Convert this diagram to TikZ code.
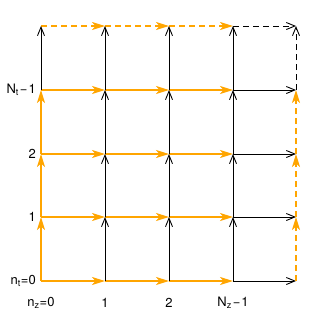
\documentclass[tikz,border=0pt]{standalone}
\usepackage{fontspec}
\setmainfont{TeX Gyre Heros}
\usetikzlibrary{arrows.meta}
\definecolor{orng}{HTML}{FFA500}
\begin{document}
\begin{tikzpicture}[x=1pt,y=-1pt,
  blkedge/.style={draw=black, line width=0.9pt, -{Straight Barb[length=8.5pt,width=7pt]}},
  orgedge/.style={draw=orng, line width=1.9pt, -{Stealth[length=13pt,width=8pt,inset=3.5pt]}},
  dsh/.style={dash pattern=on 6pt off 4pt},
  lbl/.style={font=\fontsize{13}{15}\selectfont, inner sep=0pt}]
\path[use as bounding box] (0,0) rectangle (327,322);
\foreach \i/\x in {0/41,1/105,2/169,3/233,4/296}
  \foreach \j/\y in {0/281,1/217,2/154,3/90,4/26}
    \coordinate (p\i\j) at (\x,\y);
% horizontal edges
\foreach \j in {0,1,2,3}{
  \foreach \i/\k in {0/1,1/2,2/3} \draw[orgedge] (p\i\j) -- (p\k\j);
  \draw[blkedge] (p3\j) -- (p4\j);
}
\foreach \i/\k in {0/1,1/2,2/3} \draw[orgedge,dsh] (p\i4) -- (p\k4);
\draw[blkedge,dsh] (p34) -- (p44);
% vertical edges
\foreach \j/\k in {0/1,1/2,2/3} \draw[orgedge] (p0\j) -- (p0\k);
\draw[blkedge] (p03) -- (p04);
\foreach \i in {1,2,3}
  \foreach \j/\k in {0/1,1/2,2/3,3/4} \draw[blkedge] (p\i\j) -- (p\i\k);
\foreach \j/\k in {0/1,1/2,2/3} \draw[orgedge,dsh] (p4\j) -- (p4\k);
\draw[blkedge,dsh] (p43) -- (p44);
% labels
\node[lbl,anchor=east] (lt0) at (36,281) {n\textsubscript{t}=0};
\node[lbl,anchor=east] (lt1) at (36,217) {1};
\node[lbl,anchor=east] (lt2) at (36,154) {2};
\node[lbl,anchor=east] (lt3) at (36,90) {N\textsubscript{t}\kern1pt−\kern1pt1};
\node[lbl] (lz0) at (41,303) {n\textsubscript{z}=0};
\node[lbl] (lz1) at (105,303) {1};
\node[lbl] (lz2) at (169,303) {2};
\node[lbl] (lz3) at (233,303) {N\textsubscript{z}\kern1pt−\kern1pt1};
\end{tikzpicture}
\end{document}
